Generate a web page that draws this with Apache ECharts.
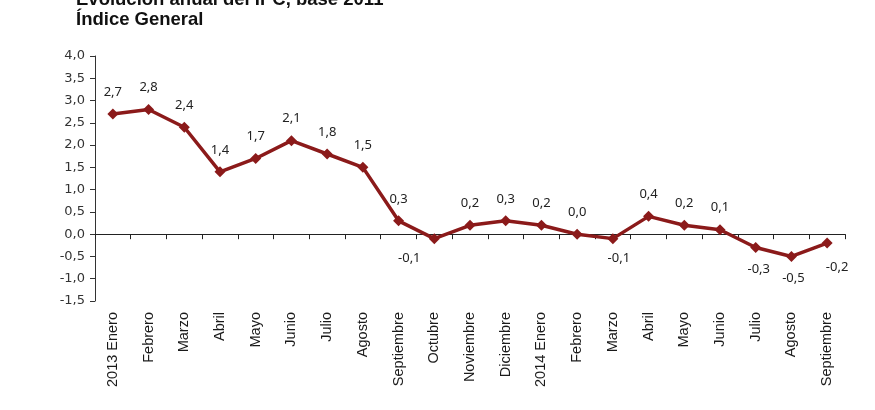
<!DOCTYPE html>
<html><head><meta charset="utf-8">
<script src="https://cdn.jsdelivr.net/npm/echarts@6/dist/echarts.min.js"></script>
<style>html,body{margin:0;padding:0;background:#fff}#c{width:875px;height:410px}</style>
</head><body><div id="c"></div>
<script>
const titleLine1 = "Evolución anual del IPC, base 2011";
const titleLine2 = "Índice General";
const categories = ["2013 Enero","Febrero","Marzo","Abril","Mayo","Junio","Julio","Agosto","Septiembre","Octubre","Noviembre","Diciembre","2014 Enero","Febrero","Marzo","Abril","Mayo","Junio","Julio","Agosto","Septiembre"];
const values = [2.7,2.8,2.4,1.4,1.7,2.1,1.8,1.5,0.3,-0.1,0.2,0.3,0.2,0.0,-0.1,0.4,0.2,0.1,-0.3,-0.5,-0.2];
const yMin = -1.5, yMax = 4.0, yStep = 0.5;

const fmt = v => v.toFixed(1).replace('.', ',');
const labelOffsets = {9: [-25, -2], 14: [6, -2], 18: [3, 0], 19: [2, 0], 20: [10, 2]};
const seriesData = values.map((v, i) => ({
  value: v,
  label: {
    position: v < 0 ? 'bottom' : 'top',
    offset: labelOffsets[i] || [0, 0]
  }
}));

const chart = echarts.init(document.getElementById('c'));
chart.setOption({
  animation: false,
  backgroundColor: '#fff',
  title: {
    text: titleLine1 + "\n" + titleLine2,
    left: 76, top: -10, padding: 0,
    textStyle: {fontFamily: 'Liberation Sans, Arial', fontSize: 18.5, fontWeight: 'bold', color: '#111', lineHeight: 20}
  },
  grid: {left: 95, right: 30, top: 56, bottom: 109},
  xAxis: [{
    type: 'category', data: categories, boundaryGap: true,
    axisLine: {onZero: true, lineStyle: {color: '#222', width: 1}},
    axisTick: {show: true, interval: 0, length: 5, lineStyle: {color: '#222'}},
    axisLabel: {show: false}
  }, {
    type: 'category', data: categories, boundaryGap: true, position: 'bottom',
    axisLine: {show: false, onZero: false}, axisTick: {show: false},
    axisLabel: {rotate: 90, interval: 0, margin: 11, fontFamily: 'Liberation Sans, Arial', fontSize: 14.5, color: '#1a1a1a'}
  }],
  yAxis: {
    type: 'value', min: yMin, max: yMax, interval: yStep,
    axisLine: {show: true, lineStyle: {color: '#333'}},
    axisTick: {show: true, length: 5, lineStyle: {color: '#333'}},
    splitLine: {show: false},
    axisLabel: {formatter: v => fmt(v), margin: 10, fontFamily: 'DejaVu Sans, Noto Sans', fontSize: 13, color: '#333'}
  },
  series: [{
    type: 'line', data: seriesData, xAxisIndex: 0,
    symbol: 'diamond', symbolSize: 11,
    lineStyle: {color: '#8b1a1a', width: 3.5},
    itemStyle: {color: '#8b1a1a'},
    label: {show: true, distance: 10, formatter: p => fmt(p.value), fontFamily: 'Noto Sans, DejaVu Sans', fontSize: 13, color: '#222'}
  }]
});
</script></body></html>
